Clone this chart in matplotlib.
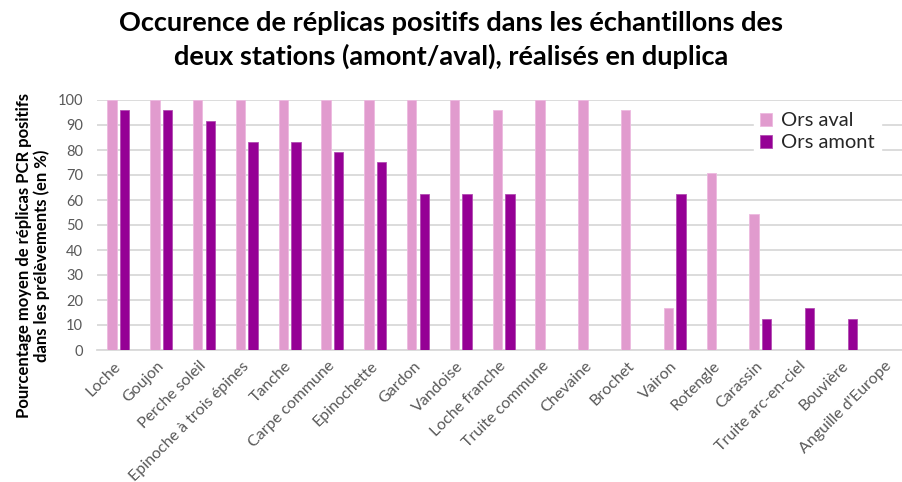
import matplotlib
matplotlib.use("Agg")
import matplotlib.pyplot as plt
import numpy as np

especes = [
    "Loche", "Goujon", "Perche soleil", "Epinoche à trois épines", "Tanche",
    "Carpe commune", "Epinochette", "Gardon", "Vandoise", "Loche franche",
    "Truite commune", "Chevaine", "Brochet", "Vairon", "Rotengle", "Carassin",
    "Truite arc-en-ciel", "Bouvière", "Anguille d'Europe",
]
ors_aval = [100, 100, 100, 100, 100, 100, 100, 100, 100, 95.8,
            100, 100, 95.8, 16.7, 70.8, 54.2, 0, 0, 0]
ors_amont = [95.8, 95.8, 91.7, 83.3, 83.3, 79.2, 75, 62.5, 62.5, 62.5,
             0, 0, 0, 62.5, 0, 12.5, 16.7, 12.5, 0]
yticks = list(range(0, 101, 10))

plt.rcParams["font.family"] = ["Lato", "DejaVu Sans"]

col_aval = "#E19BCE"
col_amont = "#950095"
gris = "#595959"

fig = plt.figure(figsize=(9.03, 4.82), dpi=100)
ax = fig.add_axes([97 / 903, 132 / 482, 806 / 903, 250 / 482])

x = np.arange(len(especes))
w = 0.22
off = 0.146
ax.bar(x - off, ors_aval, w, color=col_aval, edgecolor="#EDB9E0", linewidth=0.6,
       label="Ors aval", zorder=3)
ax.bar(x + off, ors_amont, w, color=col_amont, edgecolor="#B24DB2", linewidth=0.6,
       label="Ors amont", zorder=3)

ax.set_xlim(-0.5, -0.5 + 806 / 42.8)
ax.set_ylim(0, 100)
ax.set_yticks(yticks)
ax.yaxis.grid(True, color="#D9D9D9", linewidth=1.3, zorder=0)
ax.set_axisbelow(True)

for s in ["top", "right", "left"]:
    ax.spines[s].set_visible(False)
ax.spines["bottom"].set_color("#D9D9D9")
ax.spines["bottom"].set_linewidth(1.3)

ax.tick_params(axis="y", length=0, pad=10, labelsize=10.5, labelcolor=gris)
ax.tick_params(axis="x", length=0, pad=10)
ax.set_xticks(x)
ax.set_xticklabels(especes, rotation=45, ha="right", va="center",
                   rotation_mode="anchor", fontsize=11.5, color=gris)

ax.set_ylabel("Pourcentage moyen de réplicas PCR positifs\ndans les prélèvements (en %)",
              fontsize=12, fontweight="bold", color="black",
              linespacing=1.15)
ax.yaxis.set_label_coords(-0.058, 0.376)

leg = ax.legend(loc="upper right", bbox_to_anchor=(0.985, 1.015), frameon=True,
                fontsize=14.5, handlelength=0.6, handleheight=0.6,
                handletextpad=0.45, labelspacing=0.25, borderpad=0.3)
leg.get_frame().set_facecolor("white")
leg.get_frame().set_edgecolor("white")
leg.get_frame().set_alpha(1)
for t in leg.get_texts():
    t.set_color("#262626")

fig.text(0.5, 1 - 23 / 482,
         "Occurence de réplicas positifs dans les échantillons des",
         ha="center", va="center", fontsize=19.5, fontweight="bold")
fig.text(0.5, 1 - 56 / 482,
         "deux stations (amont/aval), réalisés en duplica",
         ha="center", va="center", fontsize=19.5, fontweight="bold")

fig.savefig("out.png", dpi=100)
